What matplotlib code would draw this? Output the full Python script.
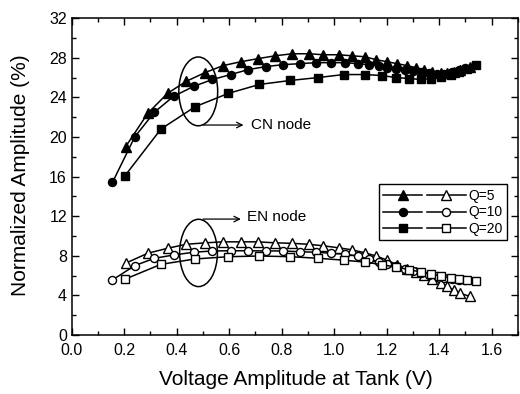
import matplotlib
matplotlib.use("Agg")
import matplotlib.pyplot as plt
from matplotlib.patches import Ellipse
from matplotlib.legend_handler import HandlerTuple
from matplotlib.ticker import MultipleLocator

plt.rcParams['font.family'] = ['Liberation Sans', 'DejaVu Sans']

# Q=5 (triangles)
v_q5 = [0.205, 0.29, 0.365, 0.435, 0.508, 0.576, 0.645, 0.708, 0.776, 0.84, 0.904,
        0.958, 1.017, 1.066, 1.116, 1.16, 1.20, 1.24, 1.278, 1.31, 1.342, 1.374,
        1.406, 1.43, 1.456, 1.48, 1.516]
cn_q5 = [19.0, 22.4, 24.4, 25.6, 26.5, 27.2, 27.6, 27.9, 28.2, 28.4, 28.4, 28.3, 28.3,
         28.2, 28.1, 27.8, 27.6, 27.4, 27.2, 27.0, 26.8, 26.6, 26.5, 26.5, 26.6, 26.8, 27.1]
en_q5 = [7.24, 8.25, 8.75, 9.15, 9.3, 9.4, 9.4, 9.4, 9.3, 9.25, 9.15, 9.0, 8.8, 8.6,
         8.3, 7.97, 7.57, 7.07, 6.7, 6.4, 6.06, 5.65, 5.2, 4.9, 4.5, 4.2, 3.9]

# Q=10 (circles)
v_q10 = [0.155, 0.24, 0.315, 0.388, 0.464, 0.536, 0.606, 0.672, 0.739, 0.805, 0.869,
         0.93, 0.986, 1.042, 1.09, 1.133, 1.17, 1.20, 1.235, 1.27, 1.30, 1.33, 1.36,
         1.39, 1.42, 1.45, 1.475, 1.50]
cn_q10 = [15.4, 20.0, 22.5, 24.1, 25.1, 25.8, 26.3, 26.8, 27.1, 27.3, 27.4, 27.5, 27.5,
          27.5, 27.4, 27.3, 27.2, 27.0, 26.9, 26.8, 26.7, 26.6, 26.5, 26.4, 26.4, 26.6,
          26.8, 27.0]
en_q10 = [5.55, 7.0, 7.74, 8.07, 8.35, 8.48, 8.5, 8.5, 8.48, 8.48, 8.4, 8.35, 8.25,
          8.15, 7.97, 7.64, 7.4, 7.2, 6.95, 6.7, 6.45, 6.25, 6.05, 5.9, 5.75, 5.65,
          5.58, 5.55]

# Q=20 (squares)
v_q20 = [0.202, 0.34, 0.47, 0.597, 0.715, 0.832, 0.94, 1.036, 1.118, 1.181, 1.235,
         1.285, 1.33, 1.368, 1.406, 1.444, 1.475, 1.506, 1.539]
cn_q20 = [16.05, 20.8, 23.05, 24.4, 25.3, 25.7, 26.0, 26.3, 26.3, 26.2, 26.0, 25.9,
          25.8, 25.9, 26.1, 26.3, 26.6, 26.9, 27.3]
en_q20 = [5.62, 7.13, 7.67, 7.9, 7.97, 7.9, 7.74, 7.55, 7.35, 7.1, 6.85, 6.6, 6.35,
          6.15, 5.95, 5.75, 5.62, 5.55, 5.48]

labels = ['Q=5', 'Q=10', 'Q=20']

fig = plt.figure(figsize=(5.2, 3.94), dpi=100)
ax = fig.add_axes([0.138, 0.150, 0.858, 0.804])

series = [(v_q5, cn_q5, en_q5, '^', 6.5),
          (v_q10, cn_q10, en_q10, 'o', 5.8),
          (v_q20, cn_q20, en_q20, 's', 5.2)]
handles = []
for v, cn, en, m, ms in series:
    h1, = ax.plot(v, cn, color='black', lw=1.1, marker=m, ms=ms,
                  mfc='black', mec='black')
    h2, = ax.plot(v, en, color='black', lw=1.1, marker=m, ms=ms,
                  mfc='white', mec='black', mew=1.0)
    handles.append((h1, h2))

# ellipses and annotations
ax.add_patch(Ellipse((0.482, 24.6), 0.148, 6.95, fill=False, ec='black', lw=1.1))
ax.add_patch(Ellipse((0.483, 8.28), 0.144, 6.8, fill=False, ec='black', lw=1.1))
ax.annotate('', xy=(0.665, 21.2), xytext=(0.49, 21.2),
            arrowprops=dict(arrowstyle='->', color='black', lw=0.9))
ax.text(0.683, 21.2, 'CN node', fontsize=11, va='center', ha='left')
ax.annotate('', xy=(0.655, 11.7), xytext=(0.49, 11.7),
            arrowprops=dict(arrowstyle='->', color='black', lw=0.9))
ax.text(0.668, 11.9, 'EN node', fontsize=11, va='center', ha='left')

ax.set_xlim(0, 1.7)
ax.set_ylim(0, 32)
ax.xaxis.set_major_locator(MultipleLocator(0.2))
ax.xaxis.set_minor_locator(MultipleLocator(0.1))
ax.yaxis.set_major_locator(MultipleLocator(4))
ax.yaxis.set_minor_locator(MultipleLocator(2))
ax.set_xticks([0.0, 0.2, 0.4, 0.6, 0.8, 1.0, 1.2, 1.4, 1.6])
ax.set_xticklabels(['0.0', '0.2', '0.4', '0.6', '0.8', '1.0', '1.2', '1.4', '1.6'])
ax.tick_params(which='both', direction='in', top=True, right=True, labelsize=11.5, width=1.0)
ax.tick_params(which='major', length=5)
ax.tick_params(axis='x', pad=6)
ax.tick_params(which='minor', length=3)
for s in ax.spines.values():
    s.set_linewidth(1.1)

ax.set_xlabel('Voltage Amplitude at Tank (V)', fontsize=15)
ax.set_ylabel('Normalized Amplitude (%)', fontsize=15)
ax.xaxis.set_label_coords(0.503, -0.112)
ax.yaxis.set_label_coords(-0.094, 0.505)

leg = ax.legend(handles, labels, handler_map={tuple: HandlerTuple(ndivide=None, pad=0.3)},
                loc='upper right', bbox_to_anchor=(0.975, 0.475), fontsize=10,
                handlelength=6.0, handletextpad=0.15, borderpad=0.3, labelspacing=0.2,
                borderaxespad=0, frameon=True, fancybox=False, edgecolor='black',
                framealpha=1)
leg.get_frame().set_linewidth(1.0)

fig.savefig('out.png', dpi=100)
